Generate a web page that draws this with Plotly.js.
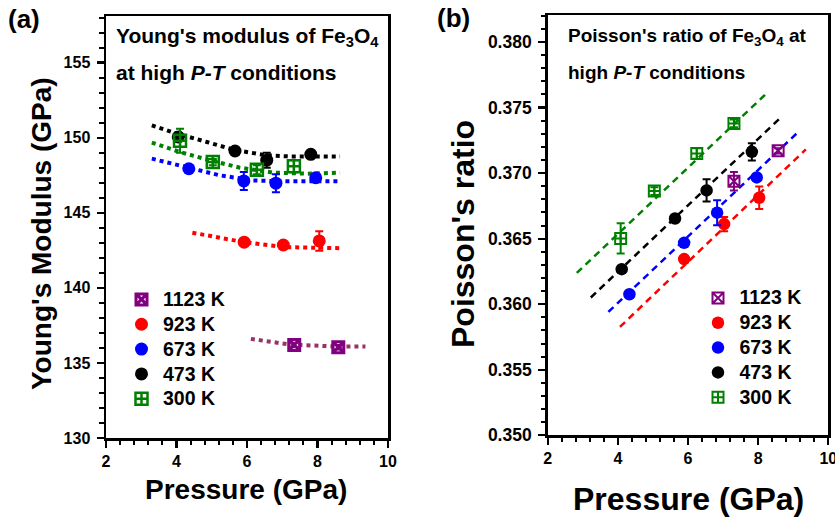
<!DOCTYPE html>
<html>
<head>
<meta charset="utf-8">
<script src="https://cdn.plot.ly/plotly-3.0.1.min.js"></script>
<style>html,body{margin:0;padding:0;background:#fff;}#chart{width:835px;height:517px;}</style>
</head>
<body>
<div id="chart"></div>
<script>
// ---------------- DATA ----------------
const temps = ['1123 K', '923 K', '673 K', '473 K', '300 K'];
const colors = ['#800080', '#FF0000', '#0000FF', '#000000', '#008000'];
const fitColorsA = ['#993366', '#FF0000', '#0000FF', '#000000', '#008000'];

// Panel (a): Young's modulus (GPa) vs pressure (GPa)
const pA_1123 = [7.34, 8.59];
const eA_1123 = [136.2, 136.05];
const errA_1123 = [0.15, 0.15];
const pA_923 = [5.92, 7.03, 8.05];
const eA_923 = [143.04, 142.85, 143.12];
const errA_923 = [0.15, 0.2, 0.65];
const pA_673 = [4.35, 5.91, 6.82, 7.95];
const eA_673 = [147.93, 147.12, 146.97, 147.33];
const errA_673 = [0.15, 0.6, 0.6, 0.2];
const pA_473 = [4.05, 5.66, 6.56, 7.81];
const eA_473 = [150.05, 149.11, 148.5, 148.89];
const errA_473 = [0.3, 0.15, 0.5, 0.15];
const pA_300 = [4.10, 5.03, 6.28, 7.33];
const eA_300 = [149.8, 148.37, 147.87, 148.09];
const errA_300 = [0.8, 0.2, 0.3, 0.4];

// Panel (a): dotted fit curves
const fitPA_1123 = [6.11, 7.22, 8.54, 9.36];
const fitEA_1123 = [136.6, 136.22, 136.09, 136.09];
const fitPA_923 = [4.45, 5.14, 5.92, 7.03, 7.97, 8.64];
const fitEA_923 = [143.67, 143.37, 143.04, 142.71, 142.64, 142.64];
const fitPA_673 = [3.30, 4.29, 5.23, 6.18, 7.13, 8.64];
const fitEA_673 = [148.6, 148.0, 147.49, 147.15, 147.09, 147.09];
const fitPA_473 = [3.30, 4.01, 4.86, 5.61, 6.56, 7.22, 8.64];
const fitEA_473 = [150.82, 150.27, 149.71, 149.2, 148.82, 148.75, 148.75];
const fitPA_300 = [3.30, 4.10, 4.95, 5.80, 6.75, 7.69, 8.64];
const fitEA_300 = [149.67, 149.04, 148.49, 148.0, 147.67, 147.6, 147.67];

// Panel (b): Poisson's ratio vs pressure (GPa)
const pB_1123 = [7.31, 8.57];
const vB_1123 = [0.36938, 0.3717];
const errB_1123 = [0.0007, 0.0002];
const pB_923 = [5.89, 7.03, 8.03];
const vB_923 = [0.36344, 0.36611, 0.36812];
const errB_923 = [0.0002, 0.00055, 0.00086];
const pB_673 = [4.33, 5.89, 6.83, 7.96];
const vB_673 = [0.36076, 0.36468, 0.36698, 0.36967];
const errB_673 = [0.0002, 0.0002, 0.00095, 0.0002];
const pB_473 = [4.11, 5.63, 6.53, 7.82];
const vB_473 = [0.36267, 0.36654, 0.36868, 0.37162];
const errB_473 = [0.0002, 0.0002, 0.00085, 0.00065];
const pB_300 = [4.08, 5.04, 6.25, 7.31];
const vB_300 = [0.36502, 0.36863, 0.3715, 0.37379];
const errB_300 = [0.00115, 0.0003, 0.0004, 0.0003];

// Panel (b): dashed linear fits (end points)
const fitPB_923 = [4.06, 9.36];
const fitVB_923 = [0.35827, 0.37181];
const fitPB_673 = [3.73, 9.12];
const fitVB_673 = [0.35941, 0.37308];
const fitPB_473 = [3.23, 8.62];
const fitVB_473 = [0.36051, 0.37418];
const fitPB_300 = [2.83, 8.24];
const fitVB_300 = [0.36239, 0.37608];

// Axis settings and texts
const xRange = [2, 10];
const yRangeA = [130, 158.1];
const yRangeB = [0.350, 0.38206];
const textA1 = "Young's modulus of Fe<sub>3</sub>O<sub>4</sub>";
const textA2 = "at high <i>P-T</i> conditions";
const textB1 = "Poisson's ratio of Fe<sub>3</sub>O<sub>4</sub> at";
const textB2 = "high <i>P-T</i> conditions";

// ---------------- BUILD ----------------
const W = 835, H = 517;
const FONT = 'Liberation Sans, Arial, Helvetica, sans-serif';
const px = v => v / W;
const py = v => 1 - v / H;

const symbolsA = ['square-x-open', 'circle', 'circle', 'circle', 'square-cross-open'];
const sizesA = [11, 13, 13, 13, 12];
const lwA = [3, 0, 0, 0, 2.5];
const sizesB = [11, 12.5, 12.5, 12.5, 11];
const lwB = [2, 0, 0, 0, 2];

const seriesA = [
  [pA_1123, eA_1123, errA_1123, fitPA_1123, fitEA_1123],
  [pA_923, eA_923, errA_923, fitPA_923, fitEA_923],
  [pA_673, eA_673, errA_673, fitPA_673, fitEA_673],
  [pA_473, eA_473, errA_473, fitPA_473, fitEA_473],
  [pA_300, eA_300, errA_300, fitPA_300, fitEA_300]
];
const seriesB = [
  [pB_1123, vB_1123, errB_1123, null, null],
  [pB_923, vB_923, errB_923, fitPB_923, fitVB_923],
  [pB_673, vB_673, errB_673, fitPB_673, fitVB_673],
  [pB_473, vB_473, errB_473, fitPB_473, fitVB_473],
  [pB_300, vB_300, errB_300, fitPB_300, fitVB_300]
];

const legendName = t => '<span style="font-size:19.5px">' + t + '</span>';

const traces = [];
// fit lines first (drawn underneath)
seriesA.forEach((s, i) => {
  traces.push({x: s[3], y: s[4], xaxis: 'x', yaxis: 'y', mode: 'lines', showlegend: false,
    hoverinfo: 'skip', line: {color: fitColorsA[i], width: 4, dash: 'dot'}});
});
seriesB.forEach((s, i) => {
  if (!s[3]) return;
  traces.push({x: s[3], y: s[4], xaxis: 'x2', yaxis: 'y2', mode: 'lines', showlegend: false,
    hoverinfo: 'skip', line: {color: colors[i], width: 2.5, dash: '7px,5px'}});
});
function markerFor(i, sizes, lws) {
  const open = symbolsA[i].indexOf('open') >= 0;
  return open
    ? {symbol: symbolsA[i], size: sizes[i], color: colors[i], line: {color: colors[i], width: lws[i]}}
    : {symbol: 'circle', size: sizes[i], color: colors[i], line: {width: 0}};
}
seriesA.forEach((s, i) => {
  traces.push({x: s[0], y: s[1], xaxis: 'x', yaxis: 'y', mode: 'markers', name: legendName(temps[i]),
    legend: 'legend', marker: markerFor(i, sizesA, lwA),
    error_y: {type: 'data', array: s[2], visible: true, color: colors[i], thickness: 2, width: 4}});
});
seriesB.forEach((s, i) => {
  traces.push({x: s[0], y: s[1], xaxis: 'x2', yaxis: 'y2', mode: 'markers', name: legendName(temps[i]),
    legend: 'legend2', marker: markerFor(i, sizesB, lwB),
    error_y: {type: 'data', array: s[2], visible: true, color: colors[i], thickness: 2, width: 4}});
});

function ann(text, x, y, size, extra) {
  return Object.assign({text: text, xref: 'paper', yref: 'paper', x: px(x), y: py(y),
    xanchor: 'left', yanchor: 'middle', showarrow: false,
    font: {family: FONT, size: size, weight: 'bold', color: '#000'}}, extra || {});
}
function axis(extra, fs, mdt, standoff) {
  return Object.assign({
    showline: true, mirror: true, linecolor: '#000', linewidth: 2.5,
    ticks: 'outside', ticklen: 7, tickwidth: 2.2, tickcolor: '#000',
    showgrid: false, zeroline: false, ticklabeloverflow: 'allow', ticklabelstandoff: standoff,
    tickfont: {family: FONT, size: fs, weight: 'bold', color: '#000'},
    minor: {ticks: 'outside', ticklen: 4.5, tickwidth: 2, tickcolor: '#000', dtick: mdt, showgrid: false}
  }, extra);
}

const layout = {
  width: W, height: H,
  margin: {l: 0, r: 0, t: 0, b: 0, pad: 0},
  paper_bgcolor: '#fff', plot_bgcolor: '#fff',
  font: {family: FONT, size: 16, color: '#000'},
  xaxis: axis({domain: [px(106), px(388)], range: xRange, tick0: 2, dtick: 2, anchor: 'y'}, 16, 0.4, 0),
  yaxis: axis({domain: [py(438), py(16)], range: yRangeA, tick0: 130, dtick: 5, anchor: 'x'}, 16, 1, 3),
  xaxis2: axis({domain: [px(547.7), px(828.3)], range: xRange, tick0: 2, dtick: 2, anchor: 'y2'}, 16, 0.4, 0),
  yaxis2: axis({domain: [py(435.3), py(15)], range: yRangeB, tick0: 0.35, dtick: 0.005, tickformat: '.3f', anchor: 'x2'}, 17.5, 0.001, 3),
  legend: {x: px(120), y: py(282), xanchor: 'left', yanchor: 'top', bgcolor: 'rgba(0,0,0,0)',
    borderwidth: 0, itemwidth: 33, tracegroupgap: 0,
    font: {family: FONT, size: 16.8, weight: 'bold', color: '#000'}},
  legend2: {x: px(696.5), y: py(280.5), xanchor: 'left', yanchor: 'top', bgcolor: 'rgba(0,0,0,0)',
    borderwidth: 0, itemwidth: 33, tracegroupgap: 0,
    font: {family: FONT, size: 16.8, weight: 'bold', color: '#000'}},
  annotations: [
    ann('(a)', 6, 19, 26),
    ann('(b)', 435, 18, 26),
    ann(textA1, 114, 37, 21),
    ann(textA2, 114, 72, 21),
    ann(textB1, 566, 37, 19),
    ann(textB2, 566, 72, 19),
    ann("Young's Modulus (GPa)", 41, 234, 28, {xanchor: 'center', textangle: -90}),
    ann('Pressure (GPa)', 246.5, 489.5, 28, {xanchor: 'center'}),
    ann("Poisson's ratio", 463, 234, 32, {xanchor: 'center', textangle: -90}),
    ann('Pressure (GPa)', 688.5, 499, 32, {xanchor: 'center'})
  ]
};

Plotly.newPlot('chart', traces, layout, {displayModeBar: false, staticPlot: true});
</script>
</body>
</html>
